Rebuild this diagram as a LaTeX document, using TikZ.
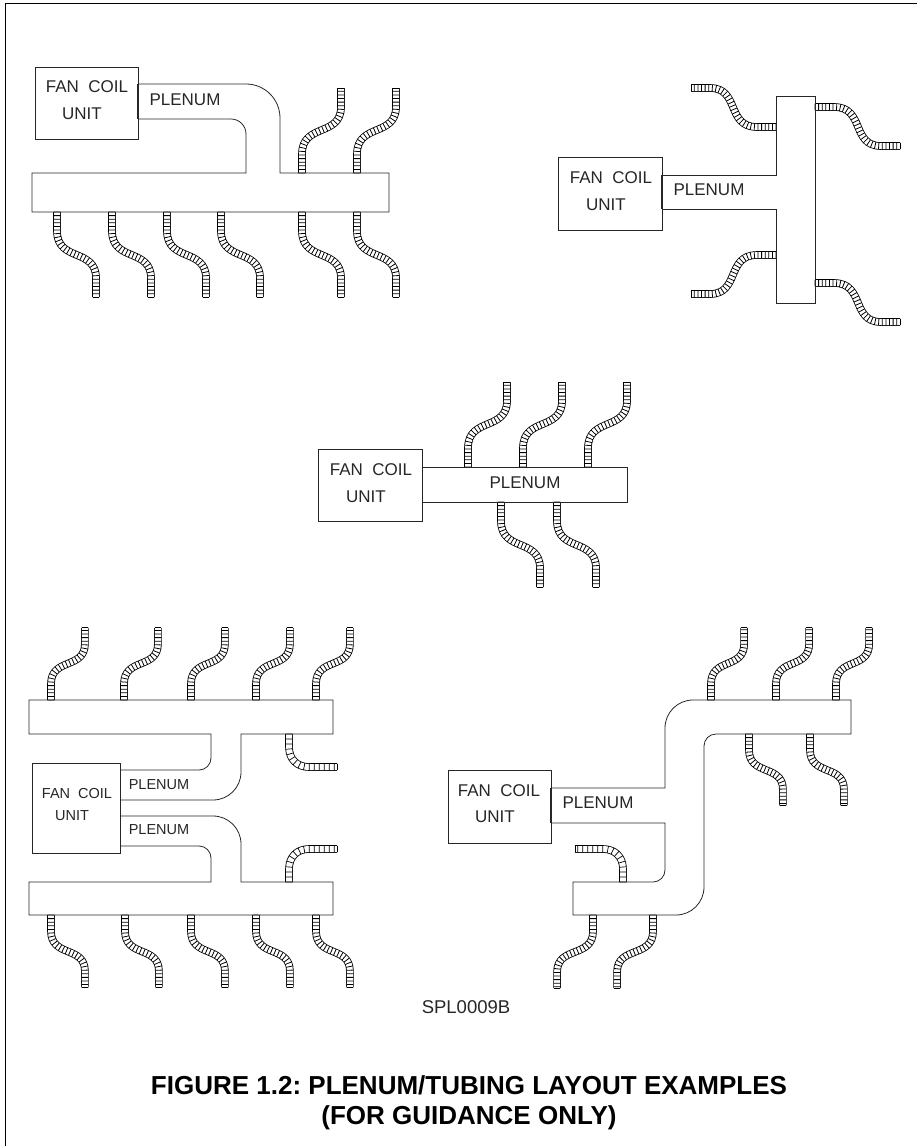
\documentclass[tikz,border=0pt]{standalone}
\usepackage{fontspec}
\setmainfont{Liberation Sans}
\usetikzlibrary{decorations.pathreplacing}

\tikzset{
  ductline/.style={line width=.8pt,black!85},
  mouthline/.style={line width=1.6pt,black!85},
  tubewall/.style={double=white,double distance=6pt,line width=.8pt},
  tuberib/.style={decorate,decoration={ticks,segment length=3.6pt,amplitude=3.4pt},line width=.8pt},
  bendrib/.style={decorate,decoration={ticks,segment length=5pt,amplitude=3.4pt},line width=.7pt},
  unitlabel/.style={font=\fontsize{17}{18}\selectfont,black!85},
  smalllabel/.style={font=\fontsize{14.5}{16}\selectfont,black!85},
  partlabel/.style={font=\fontsize{18.5}{20}\selectfont,black!85},
  captionlabel/.style={font=\frenchspacing\bfseries\fontsize{26}{28}\selectfont}
}

% S shaped tube, runs 39 across and 85 along before any scaling
\newcommand{\flexS}[2][]{%
  \begin{scope}[shift={(#2)},#1]
    \draw[tubewall] (0,0) -- (0,19) .. controls (0,50) and (39,36) .. (39,66) -- (39,85);
    \draw[tuberib] (0,0) -- (0,19) .. controls (0,50) and (39,36) .. (39,66) -- (39,85);
    \draw[line width=.7pt] (35.6,85) -- (42.4,85);
  \end{scope}}

% short quarter bend
\newcommand{\flexL}[2][]{%
  \begin{scope}[shift={(#2)},#1]
    \draw[tubewall] (0,0) -- (0,13) .. controls (0,25) and (8,33) .. (20,33) -- (48,33);
    \draw[bendrib] (0,0) -- (0,13) .. controls (0,25) and (8,33) .. (20,33) -- (48,33);
    \draw[line width=.7pt] (48,29.6) -- (48,36.4);
  \end{scope}}

\begin{document}
\begin{tikzpicture}[x=1pt,y=-1pt]
  \useasboundingbox (0,0) rectangle (917,1146);
  \draw[line width=1.5pt] (5.5,1146) -- (5.5,3.5) -- (917,3.5);

  %top left
  \foreach \xpos in {57,112,167,221,302,357} {\flexS{\xpos,212}}
  \foreach \xpos in {302,357} {\flexS[yscale=-1]{\xpos,173}}
  \draw[ductline] (138,84) [rounded corners=34pt] -- (280,84) [sharp corners] -- (280,173) -- (389,173) -- (389,212) -- (32,212) -- (32,173) -- (246,173) [rounded corners=15pt] -- (246,119) -- (138,119);
  \draw[mouthline] (138,84) -- (138,119);
  \draw[ductline] (35,67) rectangle (138,139);
  \node[unitlabel] (fanA) at (87,87) {FAN\ \ COIL};
  \node[unitlabel] (unitA) at (82,114) {UNIT};
  \node[unitlabel] (plenumA) at (185,100) {PLENUM};

  %top right
  \flexS[cm={0,-1,-1,0,(0,0)}]{815,107}
  \flexS[cm={0,-1,-1,0,(0,0)}]{815,283}
  \flexS[cm={0,1,1,0,(0,0)}]{776,127}
  \flexS[cm={0,-1,1,0,(0,0)}]{776,255}
  \draw[ductline] (662,175) -- (776,175) -- (776,96) -- (815,96) -- (815,303) -- (776,303) -- (776,209) -- (662,209);
  \draw[mouthline] (662,175) -- (662,209);
  \draw[ductline] (558,157) rectangle (662,230);
  \node[unitlabel] (fanB) at (611,178) {FAN\ \ COIL};
  \node[unitlabel] (unitB) at (606,205) {UNIT};
  \node[unitlabel] (plenumB) at (709,190) {PLENUM};

  %middle
  \foreach \xpos in {468,523,588} {\flexS[yscale=-1]{\xpos,467}}
  \foreach \xpos in {501,557} {\flexS{\xpos,502}}
  \draw[ductline] (422,467) -- (627,467) -- (627,502) -- (422,502);
  \draw[ductline] (318,449) rectangle (422,521);
  \node[unitlabel] (fanC) at (371,470) {FAN\ \ COIL};
  \node[unitlabel] (unitC) at (366,497) {UNIT};
  \node[unitlabel] (plenumC) at (525,483) {PLENUM};

  %bottom left
  \foreach \xpos in {51,124,191,256,316} {\flexS[xscale=.87,yscale=-.85]{\xpos,700}}
  \foreach \xpos in {51,125,191,256,316} {\flexS[xscale=.87,yscale=.85]{\xpos,915}}
  \flexL{289,734}
  \flexL[yscale=-1]{289,882}
  \draw[ductline] (120,770) [rounded corners=12pt] -- (211,770) [sharp corners] -- (211,734) -- (29,734) -- (29,700) -- (333,700) -- (333,734) -- (241,734) [rounded corners=28pt] -- (241,800) -- (120,800);
  \draw[ductline] (120,816) [rounded corners=28pt] -- (241,816) [sharp corners] -- (241,882) -- (333,882) -- (333,915) -- (29,915) -- (29,882) -- (211,882) [rounded corners=12pt] -- (211,846) -- (120,846);
  \draw[ductline] (32,763) rectangle (120,853);
  \node[smalllabel] (fanD) at (77,793) {FAN\ \ COIL};
  \node[smalllabel] (unitD) at (72,816) {UNIT};
  \node[smalllabel] (plenumD) at (159,785) {PLENUM};
  \node[smalllabel] (plenumE) at (159,830) {PLENUM};

  %bottom right
  \foreach \xpos in {711,776,836} {\flexS[xscale=.85,yscale=-.85]{\xpos,700}}
  \foreach \xpos in {749,810} {\flexS[xscale=.87,yscale=.84]{\xpos,734}}
  \foreach \xpos in {593,653} {\flexS[xscale=-.92,yscale=.86]{\xpos,915}}
  \flexL[xscale=-1,yscale=-1]{623,882}
  \draw[ductline] (551,788) -- (665,788) [rounded corners=28pt] -- (665,700) [sharp corners] -- (851,700) -- (851,734) [rounded corners=12pt] -- (704,734) [rounded corners=28pt] -- (704,915) [sharp corners] -- (573,915) -- (573,882) [rounded corners=12pt] -- (665,882) [sharp corners] -- (665,823) -- (551,823);
  \draw[mouthline] (551,788) -- (551,823);
  \draw[ductline] (448,770) rectangle (551,843);
  \node[unitlabel] (fanF) at (499,791) {FAN\ \ COIL};
  \node[unitlabel] (unitF) at (495,817) {UNIT};
  \node[unitlabel] (plenumF) at (598,803) {PLENUM};

  \node[partlabel] (partno) at (466,1007) {SPL0009B};
  \node[captionlabel] (titleA) at (469,1085) {FIGURE 1.2: PLENUM/TUBING LAYOUT EXAMPLES};
  \node[captionlabel] (titleB) at (469,1118) {(FOR GUIDANCE ONLY)};
\end{tikzpicture}
\end{document}
